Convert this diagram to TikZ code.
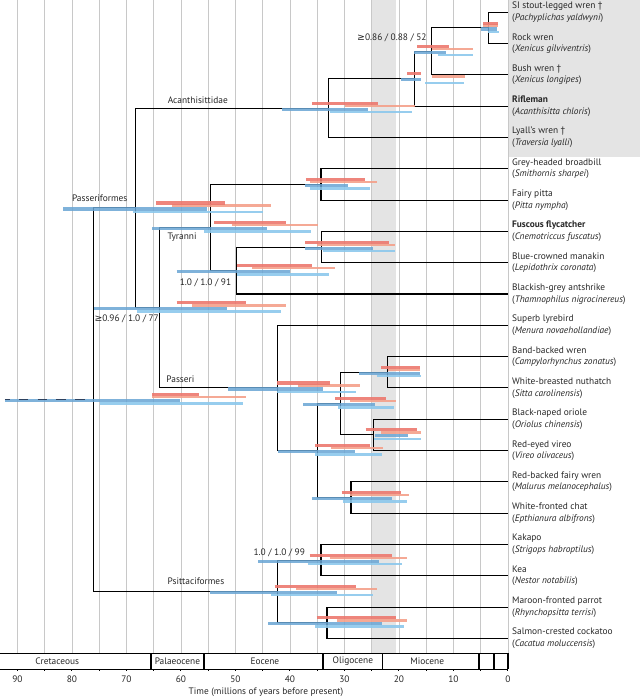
\documentclass[tikz,border=0pt]{standalone}
\usepackage{fontspec}
\setmainfont{PT Sans}
\newfontfamily\symfont{DejaVu Sans}
\newcommand{\geqs}{{\symfont ≥}}
\definecolor{hpdred}{RGB}{236,120,110}
\definecolor{hpdsalmon}{RGB}{244,160,138}
\definecolor{hpdblue}{RGB}{105,165,212}
\definecolor{hpdlight}{RGB}{140,200,236}
\definecolor{bandgray}{RGB}{228,228,228}
\definecolor{gridgray}{RGB}{200,200,200}
\definecolor{stemnavy}{RGB}{45,65,95}
\tikzset{
  branch/.style={line width=0.9pt,black},
  redbar/.style={line width=2.6pt,hpdred,opacity=0.9,yshift=4.2pt},
  salmonbar/.style={line width=2pt,hpdsalmon,opacity=0.9,yshift=2pt},
  bluebar/.style={line width=2.6pt,hpdblue,opacity=0.85,yshift=-0.9pt},
  lightbar/.style={line width=2pt,hpdlight,opacity=0.9,yshift=-3.3pt},
  leaf/.style={anchor=west,align=left,inner sep=0pt,text=black!85,
    font=\fontsize{8}{9.9}\selectfont},
  clade/.style={inner sep=0pt,text=black!85,font=\fontsize{8}{9}\selectfont},
}
\begin{document}
\begin{tikzpicture}[x={(-0.1635cm,0)},y={(0,-0.939cm)}]
  \useasboundingbox (93.2,-0.393) rectangle (-24.22,21.97);
  %Background
  \fill[bandgray] (0,-0.393) rectangle (-24.22,4.62);
  \fill[bandgray] (25,-0.393) rectangle (20.6,20.48);
  \foreach \t in {0,5,...,90}
    \draw[gridgray,line width=0.5pt] (\t,-0.393) -- (\t,20.48);

  %Leaves
  \coordinate (l0) at (0,0);
  \coordinate (l1) at (0,1);
  \coordinate (l2) at (0,2);
  \coordinate (l3) at (0,3);
  \coordinate (l4) at (0,4);
  \coordinate (l5) at (0,5);
  \coordinate (l6) at (0,6);
  \coordinate (l7) at (0,7);
  \coordinate (l8) at (0,8);
  \coordinate (l9) at (0,9);
  \coordinate (l10) at (0,10);
  \coordinate (l11) at (0,11);
  \coordinate (l12) at (0,12);
  \coordinate (l13) at (0,13);
  \coordinate (l14) at (0,14);
  \coordinate (l15) at (0,15);
  \coordinate (l16) at (0,16);
  \coordinate (l17) at (0,17);
  \coordinate (l18) at (0,18);
  \coordinate (l19) at (0,19);
  \coordinate (l20) at (0,20);

  \node[leaf] (t0) at (-0.73,0) {SI stout-legged wren †\\(\textit{Pachyplichas yaldwyni})};
  \node[leaf] (t1) at (-0.73,1) {Rock wren\\(\textit{Xenicus gilviventris})};
  \node[leaf] (t2) at (-0.73,2) {Bush wren †\\(\textit{Xenicus longipes})};
  \node[leaf] (t3) at (-0.73,3) {\textbf{Rifleman}\\(\textit{Acanthisitta chloris})};
  \node[leaf] (t4) at (-0.73,4) {Lyall's wren †\\(\textit{Traversia lyalli})};
  \node[leaf] (t5) at (-0.73,5) {Grey-headed broadbill\\(\textit{Smithornis sharpei})};
  \node[leaf] (t6) at (-0.73,6) {Fairy pitta\\(\textit{Pitta nympha})};
  \node[leaf] (t7) at (-0.73,7) {\textbf{Fuscous flycatcher}\\(\textit{Cnemotriccus fuscatus})};
  \node[leaf] (t8) at (-0.73,8) {Blue-crowned manakin\\(\textit{Lepidothrix coronata})};
  \node[leaf] (t9) at (-0.73,9) {Blackish-grey antshrike\\(\textit{Thamnophilus nigrocinereus})};
  \node[leaf] (t10) at (-0.73,10) {Superb lyrebird\\(\textit{Menura novaehollandiae})};
  \node[leaf] (t11) at (-0.73,11) {Band-backed wren\\(\textit{Campylorhynchus zonatus})};
  \node[leaf] (t12) at (-0.73,12) {White-breasted nuthatch\\(\textit{Sitta carolinensis})};
  \node[leaf] (t13) at (-0.73,13) {Black-naped oriole\\(\textit{Oriolus chinensis})};
  \node[leaf] (t14) at (-0.73,14) {Red-eyed vireo\\(\textit{Vireo olivaceus})};
  \node[leaf] (t15) at (-0.73,15) {Red-backed fairy wren\\(\textit{Malurus melanocephalus})};
  \node[leaf] (t16) at (-0.73,16) {White-fronted chat\\(\textit{Epthianura albifrons})};
  \node[leaf] (t17) at (-0.73,17) {Kakapo\\(\textit{Strigops habroptilus})};
  \node[leaf] (t18) at (-0.73,18) {Kea\\(\textit{Nestor notabilis})};
  \node[leaf] (t19) at (-0.73,19) {Maroon-fronted parrot\\(\textit{Rhynchopsitta terrisi})};
  \node[leaf] (t20) at (-0.73,20) {Salmon-crested cockatoo\\(\textit{Cacatua moluccensis})};

  %Internal nodes
  \coordinate (n1) at (3.5,0.5);
  \coordinate (n2) at (14.1,1.25);
  \coordinate (n3) at (17.2,2.125);
  \coordinate (n4) at (32.9,3.0625);
  \coordinate (n5) at (68.4,6.25);
  \coordinate (n6) at (34.3,5.5);
  \coordinate (n7) at (34.2,7.5);
  \coordinate (n8) at (49.85,8.25);
  \coordinate (n9) at (54.5,6.875);
  \coordinate (n10) at (22.1,11.5);
  \coordinate (n11) at (24.7,13.5);
  \coordinate (n12) at (30.8,12.5);
  \coordinate (n13) at (28.8,15.5);
  \coordinate (n14) at (35.0,14);
  \coordinate (n15) at (42.3,12);
  \coordinate (n16) at (63.9,9.4375);
  \coordinate (n17) at (34.3,17.5);
  \coordinate (n18) at (33.2,19.5);
  \coordinate (n19) at (42.3,18.5);
  \coordinate (root) at (76.0,12.375);
  \coordinate (stem) at (92.3,12.375);

  %Branches
  \draw[branch] (n1) |- (l0);  \draw[branch] (n1) |- (l1);
  \draw[branch] (n2) |- (n1);  \draw[branch] (n2) |- (l2);
  \draw[branch] (n3) |- (n2);  \draw[branch] (n3) |- (l3);
  \draw[branch] (n4) |- (n3);  \draw[branch] (n4) |- (l4);
  \draw[branch] (n6) |- (l5);  \draw[branch] (n6) |- (l6);
  \draw[branch] (n7) |- (l7);  \draw[branch] (n7) |- (l8);
  \draw[branch] (n8) |- (n7);  \draw[branch] (n8) |- (l9);
  \draw[branch] (n9) |- (n6);  \draw[branch] (n9) |- (n8);
  \draw[branch] (n10) |- (l11); \draw[branch] (n10) |- (l12);
  \draw[branch] (n11) |- (l13); \draw[branch] (n11) |- (l14);
  \draw[branch] (n12) |- (n10); \draw[branch] (n12) |- (n11);
  \draw[branch] (n13) |- (l15); \draw[branch] (n13) |- (l16);
  \draw[branch] (n14) |- (n12); \draw[branch] (n14) |- (n13);
  \draw[branch] (n15) |- (l10); \draw[branch] (n15) |- (n14);
  \draw[branch] (n16) |- (n9);  \draw[branch] (n16) |- (n15);
  \draw[branch] (n5) |- (n4);   \draw[branch] (n5) |- (n16);
  \draw[branch] (n17) |- (l17); \draw[branch] (n17) |- (l18);
  \draw[branch] (n18) |- (l19); \draw[branch] (n18) |- (l20);
  \draw[branch] (n19) |- (n17); \draw[branch] (n19) |- (n18);
  \draw[branch] (root) |- (n5); \draw[branch] (root) |- (n19);

  %Age intervals
  \foreach \y/\a/\b in {0.5/4.5/1.8, 1.25/14.0/6.4, 2.125/14.0/7.9, 3.0625/29.9/17.1,
      5.5/36.3/24.0, 7.5/35.0/20.8, 8.25/47.0/31.8, 6.875/50.7/34.9, 6.25/61.7/43.4,
      9.4375/58.0/40.7, 12/38.5/27.2, 14/32.4/22.9, 12.5/29.0/20.6, 11.5/22.1/16.1,
      13.5/23.3/16.0, 15.5/29.0/18.2, 17.5/32.7/18.6, 18.5/38.8/24.1, 19.5/31.4/18.5,
      12.375/65.3/48.1}
    \draw[salmonbar] (\a,\y) -- (\b,\y);
  \foreach \y/\a/\b in {0.5/4.5/1.9, 1.25/16.6/10.9, 2.125/18.5/16.0, 3.0625/35.9/23.8,
      5.5/37.1/26.2, 7.5/37.2/21.8, 8.25/49.8/36.0, 6.875/53.9/40.7, 6.25/64.6/51.9,
      9.4375/60.8/48.0, 12/42.4/32.7, 14/35.4/25.3, 12.5/31.7/22.4, 11.5/23.3/16.1,
      13.5/26.1/16.6, 15.5/30.5/19.7, 17.5/36.4/21.2, 18.5/42.8/27.8, 19.5/35.1/20.6,
      12.375/65.3/56.7}
    \draw[redbar] (\a,\y) -- (\b,\y);
  \foreach \y/\a/\b in {0.5/3.7/1.65, 1.25/12.9/6.5, 2.125/15.2/8.1, 3.0625/32.7/17.6,
      5.5/36.3/25.3, 7.5/34.0/20.7, 8.25/49.8/32.8, 6.875/55.8/36.1, 6.25/68.8/44.9,
      9.4375/68.1/41.7, 12/42.4/27.8, 14/35.4/23.2, 12.5/31.1/20.9, 11.5/24.1/16.0,
      13.5/24.6/16.0, 15.5/30.3/18.6, 17.5/36.7/19.5, 18.5/43.4/24.8, 19.5/35.4/19.1,
      12.375/74.9/48.6}
    \draw[lightbar] (\a,\y) -- (\b,\y);
  \foreach \y/\a/\b in {0.5/5.0/2.1, 1.25/17.2/11.4, 2.125/19.7/16.0, 3.0625/41.5/25.6,
      5.5/37.2/29.3, 7.5/37.2/24.7, 8.25/60.8/40.0, 6.875/65.3/44.3, 6.25/81.6/55.3,
      9.4375/75.9/51.6, 12/51.4/33.9, 14/42.2/28.1, 12.5/37.6/24.4, 11.5/27.3/16.1,
      13.5/24.4/18.3, 15.5/36.0/21.3, 17.5/45.8/23.6, 18.5/54.7/31.4, 19.5/44.0/23.2,
      12.375/92.3/60.2}
    \draw[bluebar] (\a,\y) -- (\b,\y);
  \draw[stemnavy,line width=1.3pt,dash pattern=on 8pt off 8pt,dash phase=4pt] (stem) -- (root);

  %Clade names and support
  \node[clade] (acan) at (56.9,2.81) {Acanthisittidae};
  \node[clade] (pasf) at (74.9,5.93) {Passeriformes};
  \node[clade] (tyr) at (59.8,7.19) {Tyranni};
  \node[clade] (s91) at (55.5,8.64) {1.0 / 1.0 / 91};
  \node[clade] (s77) at (69.96,9.78) {\geqs0.96 / 1.0 / 77};
  \node[clade] (pas) at (60.1,11.73) {Passeri};
  \node[clade] (psit) at (57.25,18.19) {Psittaciformes};
  \node[clade] (s99) at (41.96,17.27) {1.0 / 1.0 / 99};
  \node[clade] (s52) at (21.3,0.83) {\geqs0.86 / 0.88 / 52};

  %Time scale
  \draw[line width=1.1pt] (93.3,20.48) -- (0,20.48);
  \draw[line width=1.1pt] (93.3,20.99) -- (0,20.99);
  \foreach \t in {65.5,55.8,33.9,23.03,5.33,2.59,0}
    \draw[line width=1.3pt] (\t,20.48) -- (\t,20.99);
  \foreach \t in {0,5,...,90}
    \draw[line width=0.8pt] (\t,20.99) -- (\t,21.05);
  \foreach \t in {0,10,...,90}
    \node[clade] (tick\t) at (\t,21.31) {\t};
  \node[clade] (cret) at (82.7,20.735) {Cretaceous};
  \node[clade] (pal) at (60.65,20.735) {Palaeocene};
  \node[clade] (eoc) at (44.6,20.735) {Eocene};
  \node[clade] (oli) at (28.45,20.735) {Oligocene};
  \node[clade] (mio) at (14.8,20.735) {Miocene};
  \node[clade] (axis) at (44.4,21.72) {Time (millions of years before present)};
\end{tikzpicture}
\end{document}
